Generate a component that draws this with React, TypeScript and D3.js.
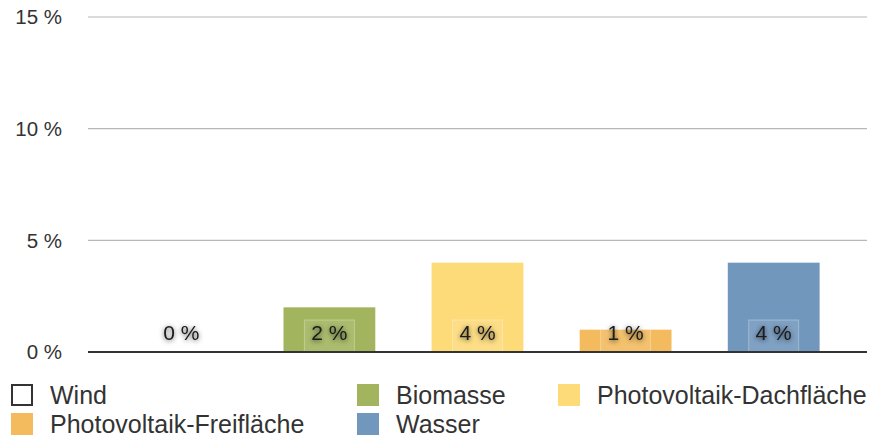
import { useEffect, useRef } from 'react';
import * as d3 from 'd3';

const categories = ['Wind', 'Biomasse', 'Photovoltaik-Dachfläche', 'Photovoltaik-Freifläche', 'Wasser'];
const values = [0, 2, 4, 1, 4];
const colors = ['#ffffff', '#a2b55e', '#fddb79', '#f3bb5e', '#7197bd'];
const yTicks = [0, 5, 10, 15];

const App = () => {
  const svgRef = useRef<SVGSVGElement>(null);

  useEffect(() => {
    const width = 877;
    const height = 437;
    const font = '"Liberation Sans", Arial, Helvetica, sans-serif';

    const svg = d3.select(svgRef.current)
      .attr('width', width)
      .attr('height', height)
      .style('font-family', font);
    svg.selectAll('*').remove();

    const defs = svg.append('defs');
    const filter = defs.append('filter')
      .attr('id', 'txtShadow')
      .attr('x', '-30%').attr('y', '-50%')
      .attr('width', '160%').attr('height', '200%');
    filter.append('feDropShadow')
      .attr('dx', 0).attr('dy', 1)
      .attr('stdDeviation', 2.4)
      .attr('flood-color', '#000')
      .attr('flood-opacity', 0.7);

    const x = d3.scaleBand<string>()
      .domain(categories)
      .range([88, 867])
      .paddingInner(0.38)
      .paddingOuter(0.32);

    const y = d3.scaleLinear()
      .domain([0, 15])
      .range([352, 17]);

    // grid lines
    svg.append('g')
      .selectAll('line')
      .data(yTicks.filter(d => d > 0))
      .enter().append('line')
      .attr('x1', 88).attr('x2', 867)
      .attr('y1', d => y(d)).attr('y2', d => y(d))
      .attr('stroke', '#b8b8b8')
      .attr('stroke-width', 1.2);

    // tick labels
    svg.append('g')
      .selectAll('text')
      .data(yTicks)
      .enter().append('text')
      .attr('x', 62)
      .attr('y', d => y(d))
      .attr('dy', '0.36em')
      .attr('text-anchor', 'end')
      .attr('font-size', 20.5)
      .attr('fill', '#333')
      .text(d => `${d} %`);

    // bars
    svg.append('g')
      .selectAll('rect')
      .data(values)
      .enter().append('rect')
      .attr('x', (_, i) => x(categories[i])!)
      .attr('width', x.bandwidth())
      .attr('y', d => y(d))
      .attr('height', d => y(0) - y(d))
      .attr('fill', (_, i) => colors[i]);

    // value labels
    const labels = svg.append('g')
      .selectAll('g')
      .data(values)
      .enter().append('g')
      .attr('transform', (_, i) => `translate(${x(categories[i])! + x.bandwidth() / 2}, 0)`);

    labels.append('rect')
      .attr('x', -25)
      .attr('width', 50)
      .attr('y', 320)
      .attr('height', 34)
      .attr('fill', '#ffffff')
      .attr('fill-opacity', 0.1)
      .attr('stroke', '#ffffff')
      .attr('stroke-opacity', 0.3);

    labels.append('text')
      .attr('y', 340)
      .attr('text-anchor', 'middle')
      .attr('font-size', 21)
      .attr('fill', '#1a1a1a')
      .attr('filter', 'url(#txtShadow)')
      .text(d => `${d} %`);

    // baseline
    svg.append('line')
      .attr('x1', 88).attr('x2', 867)
      .attr('y1', y(0)).attr('y2', y(0))
      .attr('stroke', '#333')
      .attr('stroke-width', 2);

    // legend
    const legendPos = [
      { x: 11, y: 384 },
      { x: 357, y: 384 },
      { x: 558, y: 384 },
      { x: 11, y: 413 },
      { x: 357, y: 413 },
    ];

    const legend = svg.append('g')
      .selectAll('g')
      .data(categories)
      .enter().append('g')
      .attr('transform', (_, i) => `translate(${legendPos[i].x}, ${legendPos[i].y})`);

    legend.append('rect')
      .attr('x', (_, i) => i === 0 ? 1 : 0)
      .attr('y', (_, i) => i === 0 ? 1 : 0)
      .attr('width', (_, i) => i === 0 ? 20 : 22)
      .attr('height', (_, i) => i === 0 ? 20 : 22)
      .attr('fill', (_, i) => colors[i])
      .attr('stroke', (_, i) => i === 0 ? '#333' : 'none')
      .attr('stroke-width', 2);

    legend.append('text')
      .attr('x', 39)
      .attr('y', 11)
      .attr('dy', '0.36em')
      .attr('font-size', 25)
      .attr('fill', '#333')
      .text(d => d);
  }, []);

  return (
    <div>
      <svg ref={svgRef} style={{ position: 'absolute', left: 0, top: 0 }} />
    </div>
  );
};

export default App;
